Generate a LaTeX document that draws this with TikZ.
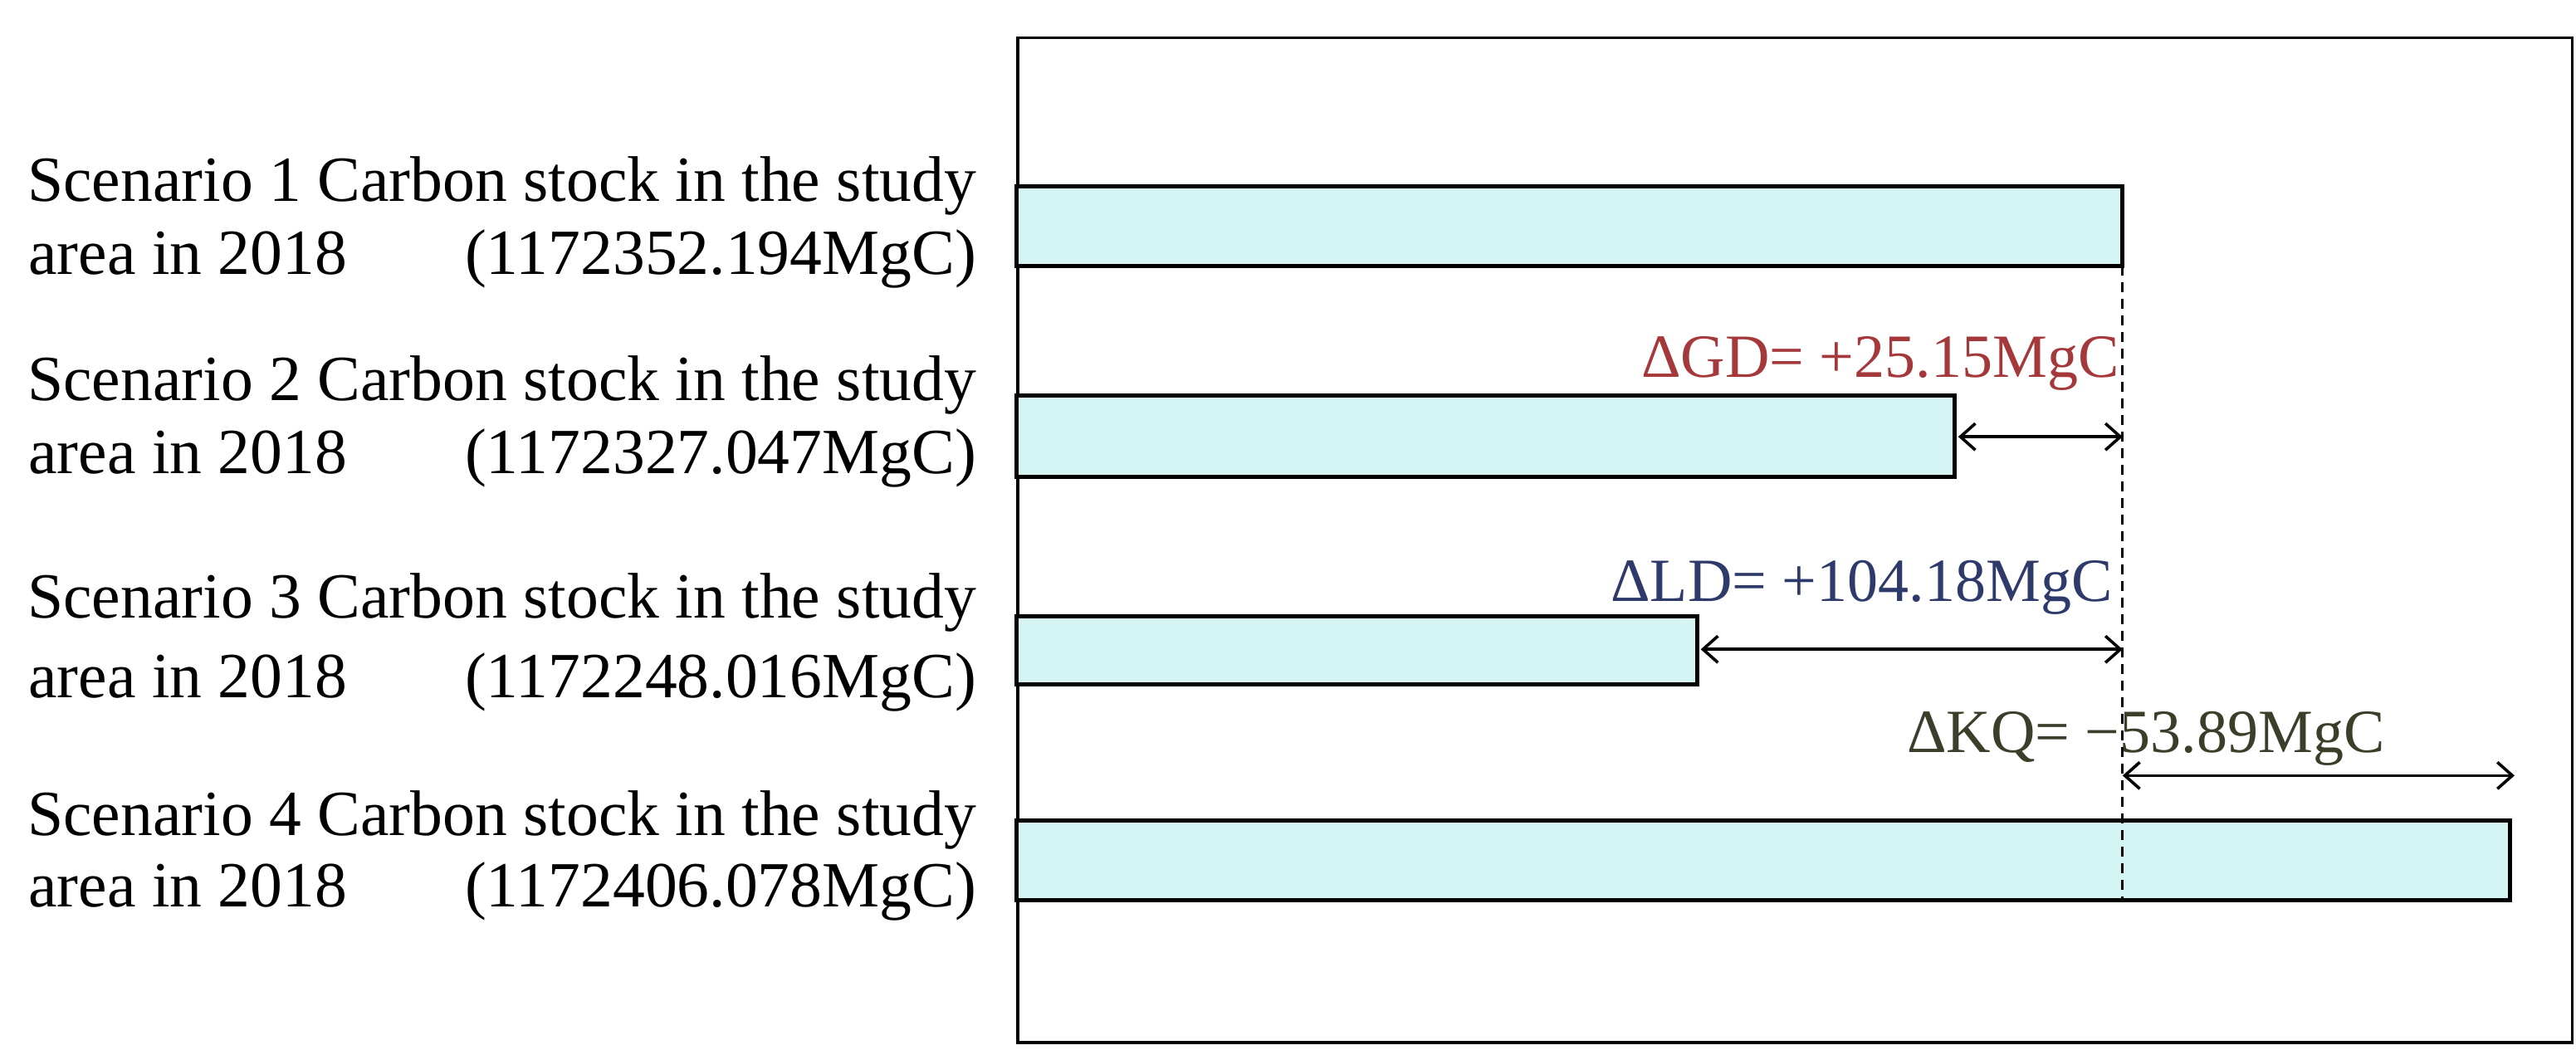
\documentclass[tikz,border=0pt]{standalone}
\usepackage{fontspec}
\setmainfont{Liberation Serif}
\usetikzlibrary{arrows.meta}
\definecolor{barfill}{HTML}{D4F5F3}
\definecolor{gdc}{HTML}{A5383A}
\definecolor{ldc}{HTML}{2E3A6A}
\definecolor{kqc}{HTML}{3A3F2A}
\begin{document}
\begin{tikzpicture}[x=1pt,y=-1pt,
  bar/.style={draw,line width=2.5pt,fill=barfill},
  lbl/.style={font=\fontsize{38.8}{40}\selectfont,inner sep=0pt},
  dim/.style={line width=1.8pt,{Straight Barb[length=9pt,width=16pt,line width=1.8pt]}-{Straight Barb[length=9pt,width=16pt,line width=1.8pt]}},
  dl/.style={font=\fontsize{37}{40}\selectfont,inner sep=0pt}]
\useasboundingbox (0,0) rectangle (1551,635);
\node[draw,line width=1.6pt,minimum width=936pt,minimum height=605pt,anchor=north west] (frame) at (612,22) {};
\draw[bar] (612,112) rectangle (1278,160);
\draw[bar] (612,238) rectangle (1177,287);
\draw[bar] (612,371) rectangle (1022,412);
\draw[bar] (612,494) rectangle (1511,542);
\coordinate (dtop) at (1278,160);
\coordinate (dbot) at (1278,542);
\draw[line width=1.6pt,dash pattern=on 6pt off 4pt] (dtop) -- (dbot);
\coordinate (a2l) at (1179,263); \coordinate (a2r) at (1278,263);
\coordinate (a3l) at (1024,391); \coordinate (a3r) at (1278,391);
\coordinate (a4l) at (1278,467); \coordinate (a4r) at (1514,467);
\draw[dim] (a2l) -- (a2r);
\draw[dim] (a3l) -- (a3r);
\draw[dim] (a4l) -- (a4r);
\node[dl,text=gdc,anchor=base east] (gd) at (1276,227) {ΔGD= +25.15MgC};
\node[dl,text=ldc,anchor=base east] (ld) at (1272,362) {ΔLD= +104.18MgC};
\node[dl,text=kqc,anchor=base west] (kq) at (1148,453) {ΔKQ= −53.89MgC};
\foreach \i/\ya/\yb/\v in {1/121/165/1172352.194,2/241/285/1172327.047,3/372/420/1172248.016,4/503/546/1172406.078}{
  \node[lbl,anchor=base east] (s\i) at (588,\ya) {Scenario \i\ Carbon stock in the study};
  \node[lbl,anchor=base west] (a\i) at (17,\yb) {area in 2018};
  \node[lbl,anchor=base east] (v\i) at (588,\yb) {(\v MgC)};
}
\end{tikzpicture}
\end{document}
